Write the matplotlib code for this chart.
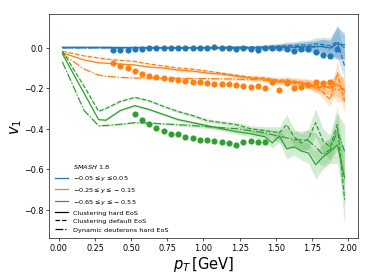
import matplotlib
matplotlib.use("Agg")
import matplotlib.pyplot as plt
from matplotlib.lines import Line2D
import numpy as np

# model grid (pT in GeV)
pt_model = [0.025, 0.175, 0.275, 0.325, 0.425, 0.525, 0.625, 0.725, 0.825, 0.925,
            1.025, 1.125, 1.225, 1.325, 1.425, 1.475, 1.525, 1.575, 1.625, 1.675,
            1.725, 1.775, 1.825, 1.875, 1.925, 1.975]

# y in [-0.05, 0.05]
blue_hard = [0.003, 0.003, 0.003, 0.003, 0.002, 0.002, 0.002, 0.001, 0.001, 0.001,
             0.0, 0.0, 0.0, 0.0, 0.0, 0.002, 0.0, 0.004, 0.002, 0.006,
             0.004, 0.008, 0.005, 0.0, 0.02, 0.015]
blue_default = [0.0, 0.0, 0.0, 0.0, 0.0, 0.0, 0.0, 0.0, 0.0, 0.002,
                0.002, 0.002, 0.004, 0.004, 0.006, 0.008, 0.008, 0.012, 0.01, 0.015,
                0.012, 0.02, 0.016, 0.01, 0.03, -0.09]
blue_dyn = [0.0, 0.0, 0.0, 0.0, 0.0, 0.0, 0.0, 0.0, 0.0, 0.0,
            0.0, 0.0, 0.0, 0.0, 0.002, 0.0, 0.004, 0.002, 0.006, 0.004,
            0.008, 0.0, 0.01, -0.01, 0.03, 0.0]
blue_err = [0.002, 0.002, 0.002, 0.002, 0.002, 0.003, 0.003, 0.003, 0.004, 0.004,
            0.005, 0.005, 0.006, 0.008, 0.01, 0.012, 0.015, 0.018, 0.02, 0.022,
            0.025, 0.03, 0.035, 0.04, 0.08, 0.06]

# y in [-0.25, -0.15]
orange_hard = [-0.025, -0.06, -0.074, -0.076, -0.08, -0.085, -0.095, -0.10, -0.11, -0.115,
               -0.125, -0.13, -0.14, -0.15, -0.155, -0.16, -0.165, -0.165, -0.17, -0.175,
               -0.18, -0.20, -0.19, -0.20, -0.18, -0.215]
orange_default = [-0.017, -0.04, -0.05, -0.055, -0.062, -0.067, -0.08, -0.09, -0.10, -0.105,
                  -0.115, -0.125, -0.135, -0.145, -0.148, -0.155, -0.16, -0.158, -0.165, -0.17,
                  -0.175, -0.19, -0.22, -0.256, -0.124, -0.264]
orange_dyn = [-0.03, -0.105, -0.135, -0.14, -0.146, -0.149, -0.15, -0.15, -0.15, -0.152,
              -0.152, -0.153, -0.155, -0.157, -0.16, -0.165, -0.17, -0.168, -0.175, -0.18,
              -0.18, -0.185, -0.20, -0.19, -0.21, -0.20]
orange_err = [0.002, 0.002, 0.003, 0.003, 0.003, 0.004, 0.004, 0.004, 0.005, 0.005,
              0.006, 0.006, 0.007, 0.008, 0.01, 0.012, 0.014, 0.016, 0.018, 0.02,
              0.022, 0.025, 0.03, 0.035, 0.06, 0.06]

# y in [-0.65, -0.55]
green_hard = [-0.03, -0.225, -0.355, -0.358, -0.31, -0.286, -0.305, -0.33, -0.355, -0.37,
              -0.385, -0.40, -0.415, -0.425, -0.44, -0.47, -0.437, -0.50, -0.49, -0.51,
              -0.52, -0.578, -0.54, -0.512, -0.48, -0.644]
green_default = [-0.017, -0.19, -0.314, -0.30, -0.265, -0.245, -0.262, -0.29, -0.315, -0.335,
                 -0.36, -0.37, -0.38, -0.40, -0.41, -0.415, -0.42, -0.38, -0.44, -0.47,
                 -0.45, -0.37, -0.46, -0.49, -0.38, -0.75]
green_dyn = [-0.07, -0.31, -0.385, -0.384, -0.378, -0.37, -0.372, -0.376, -0.38, -0.385,
             -0.39, -0.395, -0.40, -0.41, -0.42, -0.43, -0.437, -0.445, -0.454, -0.455,
             -0.46, -0.49, -0.528, -0.503, -0.413, -0.512]
green_err = [0.003, 0.004, 0.004, 0.005, 0.005, 0.005, 0.006, 0.006, 0.007, 0.008,
             0.009, 0.01, 0.012, 0.015, 0.02, 0.025, 0.03, 0.05, 0.04, 0.045,
             0.05, 0.07, 0.06, 0.06, 0.09, 0.13]

# data points
pt_blue = [0.375 + 0.05 * i for i in range(32)]
v1_blue = [-0.013, -0.012, -0.009, -0.006, -0.005, -0.003, -0.002, -0.002, -0.001, -0.001,
           0.0, 0.0, -0.001, 0.0, 0.003, 0.0, -0.001, -0.006, 0.0, -0.005,
           -0.012, -0.003, 0.0, -0.003, -0.005, -0.017, -0.005, -0.005, -0.02, -0.038,
           -0.041, -0.007]
pt_orange = [0.375 + 0.05 * i for i in range(31)]
v1_orange = [-0.074, -0.091, -0.102, -0.116, -0.13, -0.137, -0.144, -0.15, -0.156, -0.159,
             -0.165, -0.167, -0.17, -0.172, -0.178, -0.177, -0.181, -0.186, -0.188, -0.192,
             -0.189, -0.2, -0.171, -0.211, -0.176, -0.198, -0.193, -0.185, -0.17, -0.174,
             -0.168]
pt_green = [0.525 + 0.05 * i for i in range(19)]
v1_green = [-0.325, -0.355, -0.378, -0.397, -0.413, -0.424, -0.428, -0.442, -0.447, -0.454,
            -0.456, -0.46, -0.464, -0.47, -0.479, -0.465, -0.462, -0.464, -0.467]

colors = ["#1f77b4", "#ff7f0e", "#2ca02c"]
ranges = [r"$-0.05 \leq y \leq 0.05$", r"$-0.25 \leq y \leq -0.15$",
          r"$-0.65 \leq y \leq -0.55$"]
styles = ["-", "--", "-."]
style_names = ["Clustering hard EoS", "Clustering default EoS", "Dynamic deuterons hard EoS"]

models = [
    (blue_hard, blue_default, blue_dyn, blue_err),
    (orange_hard, orange_default, orange_dyn, orange_err),
    (green_hard, green_default, green_dyn, green_err),
]
points = [(pt_blue, v1_blue), (pt_orange, v1_orange), (pt_green, v1_green)]

fig = plt.figure(figsize=(6.4, 4.8), dpi=58.4375)
ax = fig.add_axes([0.132, 0.15, 0.825, 0.7975])

pt = np.array(pt_model)
for c, (h, d, dy, err) in zip(colors, models):
    e = np.array(err)
    for vals, ls in zip((h, d, dy), styles):
        v = np.array(vals)
        ax.fill_between(pt, v - e, v + e, color=c, alpha=0.2, lw=0)
        ax.plot(pt, v, color=c, ls=ls, lw=1.5)

for c, (x, y) in zip(colors, points):
    ax.plot(x, y, "o", color=c, ms=6.5, zorder=3)

ax.set_xlim(-0.065, 2.067)
ax.set_ylim(-0.94, 0.166)
ax.set_xticks(np.arange(0, 2.01, 0.25))
ax.set_yticks([0.0, -0.2, -0.4, -0.6, -0.8])
ax.set_xlabel(r"$p_T\,$[GeV]", fontsize=18, labelpad=2)
ax.set_ylabel(r"$v_1$", fontsize=18, labelpad=0)

handles = [Line2D([], [], color="none")]
labels = [r"$\it{SMASH}$ 1.8"]
for c, r in zip(colors, ranges):
    handles.append(Line2D([], [], color=c, lw=1.5))
    labels.append(r)
for ls, n in zip(styles, style_names):
    handles.append(Line2D([], [], color="black", ls=ls, lw=1.5))
    labels.append(n)
ax.legend(handles, labels, loc="lower left", frameon=False, fontsize=8,
          labelspacing=0.45, borderaxespad=0.5)

fig.savefig("out.png", dpi=58.4375)
